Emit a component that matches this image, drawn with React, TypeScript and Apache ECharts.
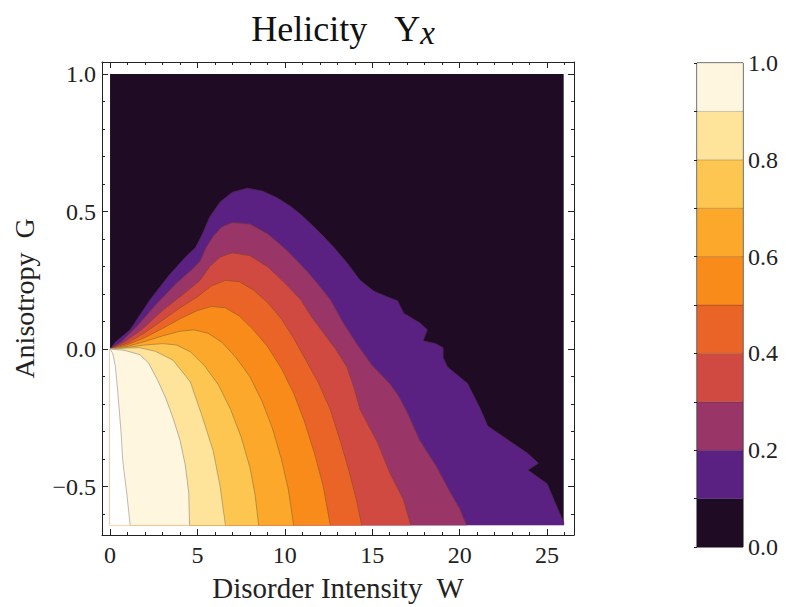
import React, { useEffect, useRef } from "react";
import * as echarts from "echarts";

// ---- data domain ----
const W_MAX = 25.95;
const G_MIN = -0.64;
const G_MAX = 1.0;

// axis ranges (frame includes Mathematica-style padding)
const X_MIN = -0.46;
const X_MAX = 26.54;
const Y_MIN = -0.676;
const Y_MAX = 1.044;

const xMajor = [0, 5, 10, 15, 20, 25];
const xMinor = [1, 2, 3, 4, 6, 7, 8, 9, 11, 12, 13, 14, 16, 17, 18, 19, 21, 22, 23, 24, 26];
const yMajor = [-0.5, 0, 0.5, 1.0];
const yMinor = [-0.6, -0.4, -0.3, -0.2, -0.1, 0.1, 0.2, 0.3, 0.4, 0.6, 0.7, 0.8, 0.9];

const levels = [0.1, 0.2, 0.3, 0.4, 0.5, 0.6, 0.7, 0.8, 0.9];
const bandLows = [0, 0.1, 0.2, 0.3, 0.4, 0.5, 0.6, 0.7, 0.8, 0.9];
const bandColors = [
  "#1f0c24", "#5b2182", "#993567", "#d04a42", "#ea6428",
  "#f98b1b", "#fba82b", "#fdc651", "#fee49b", "#fef6df",
];
const cbMajor = [0, 0.2, 0.4, 0.6, 0.8, 1.0];
const cbMinor = [0.1, 0.3, 0.5, 0.7, 0.9];

// contour lines (W, G) of helicity level
const contour01: number[][] = [
  [0, 0], [0.3, 0.025], [1.15, 0.07], [2.3, 0.18], [3.4, 0.27], [4.4, 0.34], [4.9, 0.37],
  [5.3, 0.42], [5.7, 0.48], [6.3, 0.535], [7.0, 0.57], [7.85, 0.585], [8.7, 0.575], [9.55, 0.55],
  [10.3, 0.52], [10.9, 0.49], [11.9, 0.43], [12.8, 0.37], [13.6, 0.31], [14.3, 0.25],
  [15.1, 0.21], [15.85, 0.19], [16.45, 0.175], [16.8, 0.13], [17.75, 0.094], [18.15, 0.07],
  [17.9, 0.03], [18.6, 0.02], [19.05, 0.005], [19.05, -0.03], [19.3, -0.065], [20.45, -0.125],
  [21.2, -0.22], [21.6, -0.28], [22.75, -0.33], [23.9, -0.38], [24.5, -0.415], [23.9, -0.44],
  [25.0, -0.49], [25.4, -0.55], [25.95, -0.63], [25.95, -0.64],
];
const contour02: number[][] = [
  [0, 0], [0.6, 0.025], [1.5, 0.08], [2.6, 0.16], [3.8, 0.24], [4.7, 0.29], [5.15, 0.32],
  [5.5, 0.37], [5.9, 0.41], [6.4, 0.445], [7.0, 0.46], [8.0, 0.455], [9.0, 0.42], [10.1, 0.36],
  [10.8, 0.315], [11.45, 0.27], [12.1, 0.22], [12.6, 0.18], [13.3, 0.1], [14.1, 0.02],
  [15.0, -0.06], [16.0, -0.125], [16.5, -0.17], [17.0, -0.23], [17.7, -0.33], [18.7, -0.43],
  [19.45, -0.52], [20.0, -0.58], [20.4, -0.64],
];
const contour03: number[][] = [
  [0, 0], [0.8, 0.025], [1.8, 0.07], [3.0, 0.14], [4.2, 0.2], [5.15, 0.25], [5.7, 0.3],
  [6.3, 0.335], [7.0, 0.35], [8.0, 0.34], [9.0, 0.3], [10.0, 0.24], [10.9, 0.18], [11.6, 0.11],
  [12.2, 0.06], [12.9, 0.0], [13.55, -0.065], [14.0, -0.15], [14.3, -0.22], [15.3, -0.34],
  [16.0, -0.45], [16.8, -0.55], [17.2, -0.64],
];
const contour04: number[][] = [
  [0, 0], [1.0, 0.022], [2.0, 0.06], [3.0, 0.105], [4.0, 0.15], [5.0, 0.19], [5.8, 0.23],
  [6.6, 0.25], [7.4, 0.245], [8.2, 0.215], [9.0, 0.17], [9.8, 0.11], [10.5, 0.04],
  [11.2, -0.04], [11.9, -0.12], [12.6, -0.22], [13.2, -0.34], [13.7, -0.45], [14.1, -0.55],
  [14.4, -0.64],
];
const contour05: number[][] = [
  [0, 0], [1.0, 0.016], [2.0, 0.042], [3.0, 0.075], [4.0, 0.11], [5.0, 0.14], [5.8, 0.155],
  [6.6, 0.15], [7.4, 0.12], [8.2, 0.07], [9.0, 0.01], [9.8, -0.07], [10.5, -0.16],
  [11.1, -0.26], [11.7, -0.38], [12.2, -0.5], [12.6, -0.64],
];
const contour06: number[][] = [
  [0, 0], [1.0, 0.01], [2.0, 0.028], [3.0, 0.048], [4.0, 0.065], [4.8, 0.07], [5.6, 0.058],
  [6.4, 0.025], [7.2, -0.03], [8.0, -0.1], [8.7, -0.19], [9.3, -0.29], [9.8, -0.4],
  [10.2, -0.51], [10.5, -0.64],
];
const contour07: number[][] = [
  [0, 0], [1.0, 0.006], [2.0, 0.015], [3.0, 0.02], [3.8, 0.015], [4.6, -0.01], [5.4, -0.06],
  [6.2, -0.13], [6.9, -0.22], [7.5, -0.32], [8.0, -0.43], [8.3, -0.53], [8.5, -0.64],
];
const contour08: number[][] = [
  [0, 0], [1.0, 0.004], [1.7, 0.005], [2.6, -0.008], [3.6, -0.04], [4.6, -0.12], [5.3, -0.25],
  [5.9, -0.37], [6.3, -0.5], [6.6, -0.64],
];
const contour09: number[][] = [
  [0, 0], [0.8, -0.004], [1.7, -0.02], [2.2, -0.05], [2.7, -0.11], [3.2, -0.18], [3.6, -0.25],
  [4.0, -0.33], [4.3, -0.42], [4.5, -0.52], [4.55, -0.64],
];
// left edge of the computed region (white beyond it)
const whiteEdge: number[][] = [
  [0, 0], [0.15, -0.015], [0.3, -0.06], [0.42, -0.14], [0.55, -0.24], [0.65, -0.32],
  [0.72, -0.4], [0.85, -0.47], [0.95, -0.52], [1.05, -0.58], [1.15, -0.64],
];

const contours = [contour01, contour02, contour03, contour04, contour05, contour06, contour07, contour08, contour09];

const SERIF = "'Liberation Serif', 'Times New Roman', serif";
const LINE_COLOR = "rgba(70,50,40,0.45)";

function fmt(v: number) {
  const s = Math.abs(v).toFixed(1);
  return v < 0 ? "\u2212" + s : s;
}

export default function App() {
  const ref = useRef<HTMLDivElement>(null);

  useEffect(() => {
    if (!ref.current) return;
    const chart = echarts.init(ref.current, null, { renderer: "svg" });

    const layerIds = [0, ...levels.map((_, i) => i + 1), levels.length + 1];

    const renderContour = (params: any, api: any) => {
      const id = params.dataIndex;
      if (id === 0) {
        const p0 = api.coord([0, G_MAX]);
        const p1 = api.coord([W_MAX, G_MIN]);
        return {
          type: "rect",
          shape: { x: p0[0], y: p0[1], width: p1[0] - p0[0], height: p1[1] - p0[1] },
          style: { fill: bandColors[0] },
        };
      }
      const isMask = id === levels.length + 1;
      const curve = isMask ? whiteEdge : contours[id - 1];
      const pts = curve.map((p) => api.coord(p));
      const poly = pts.concat([api.coord([0, G_MIN])]);
      return {
        type: "group",
        children: [
          {
            type: "polygon",
            shape: { points: poly },
            style: { fill: isMask ? "#ffffff" : bandColors[id], stroke: isMask ? "#ffffff" : bandColors[id], lineWidth: 0.5 },
          },
          {
            type: "polyline",
            shape: { points: pts },
            style: { fill: "none", stroke: isMask ? "rgba(120,110,100,0.6)" : LINE_COLOR, lineWidth: 0.8 },
          },
        ],
      };
    };

    const renderBar = (params: any, api: any) => {
      const lo = bandLows[params.dataIndex];
      const p0 = api.coord([0, lo + 0.1]);
      const p1 = api.coord([1, lo]);
      return {
        type: "rect",
        shape: { x: p0[0], y: p0[1], width: p1[0] - p0[0], height: p1[1] - p0[1] },
        style: { fill: bandColors[params.dataIndex], stroke: "rgba(0,0,0,0.25)", lineWidth: 0.6 },
      };
    };

    const tickLabel = { fontFamily: SERIF, fontSize: 24, color: "#222" };

    const mainX = (pos: string, major: boolean, extra: any = {}) => ({
      type: "value",
      gridIndex: 0,
      position: pos,
      min: X_MIN,
      max: X_MAX,
      axisLine: { show: major, onZero: false, lineStyle: { color: "#222", width: 1 } },
      axisTick: {
        show: true,
        inside: true,
        length: major ? 6 : 3,
        customValues: major ? xMajor : xMinor,
        lineStyle: { color: "#222", width: 1 },
      },
      axisLabel: { show: false },
      splitLine: { show: false },
      ...extra,
    });
    const mainY = (pos: string, major: boolean, extra: any = {}) => ({
      type: "value",
      gridIndex: 0,
      position: pos,
      min: Y_MIN,
      max: Y_MAX,
      axisLine: { show: major, onZero: false, lineStyle: { color: "#222", width: 1 } },
      axisTick: {
        show: true,
        inside: true,
        length: major ? 6 : 3,
        customValues: major ? yMajor : yMinor,
        lineStyle: { color: "#222", width: 1 },
      },
      axisLabel: { show: false },
      splitLine: { show: false },
      ...extra,
    });

    chart.setOption({
      animation: false,
      backgroundColor: "#ffffff",
      title: {
        text: "{h|Helicity   \u03A5}{s|x}",
        left: 338,
        textAlign: "center",
        top: 6,
        textStyle: {
          fontWeight: "normal",
          rich: {
            h: { fontFamily: SERIF, fontSize: 36, fontWeight: "normal", color: "#111", padding: [0, 0, 7, 0] },
            s: { fontFamily: SERIF, fontSize: 33, fontWeight: "normal", fontStyle: "italic", color: "#111" },
          },
        },
      },
      grid: [
        { left: 102, top: 62, width: 472, height: 473, show: false },
        { left: 697, top: 63, width: 46, height: 484, show: true, borderColor: "#222", borderWidth: 1, backgroundColor: "transparent" },
      ],
      xAxis: [
        mainX("bottom", true, {
          axisLabel: { show: true, customValues: xMajor, margin: 8, ...tickLabel },
          name: "Disorder Intensity  W",
          nameLocation: "middle",
          nameGap: 38,
          nameTextStyle: { fontFamily: SERIF, fontSize: 29, color: "#222" },
        }),
        mainX("bottom", false),
        mainX("top", true),
        mainX("top", false),
        { type: "value", gridIndex: 1, min: 0, max: 1, show: false },
      ],
      yAxis: [
        mainY("left", true, {
          axisLabel: { show: true, customValues: yMajor, margin: 6, formatter: (v: number) => fmt(v), ...tickLabel },
          name: "Anisotropy  G",
          nameLocation: "middle",
          nameGap: 64,
          nameTextStyle: { fontFamily: SERIF, fontSize: 28, color: "#222" },
        }),
        mainY("left", false),
        mainY("right", true),
        mainY("right", false),
        {
          type: "value",
          gridIndex: 1,
          position: "right",
          min: 0,
          max: 1,
          axisLine: { show: false },
          axisTick: { show: true, inside: true, length: 3, customValues: cbMinor.concat(cbMajor), lineStyle: { color: "#222" } },
          axisLabel: { show: true, customValues: cbMajor, margin: 5, formatter: (v: number) => fmt(v), ...tickLabel },
          splitLine: { show: false },
        },
      ],
      series: [
        {
          type: "custom",
          xAxisIndex: 0,
          yAxisIndex: 0,
          clip: true,
          renderItem: renderContour,
          data: layerIds.map((i) => [0, 0, i]),
          silent: true,
        },
        {
          type: "custom",
          xAxisIndex: 4,
          yAxisIndex: 4,
          renderItem: renderBar,
          data: bandLows.map((v) => [0, v]),
          silent: true,
        },
      ],
    });

    return () => chart.dispose();
  }, []);

  return (
    <div
      ref={ref}
      style={{ position: "fixed", left: 0, top: 0, width: 786, height: 607, background: "#fff" }}
    />
  );
}
